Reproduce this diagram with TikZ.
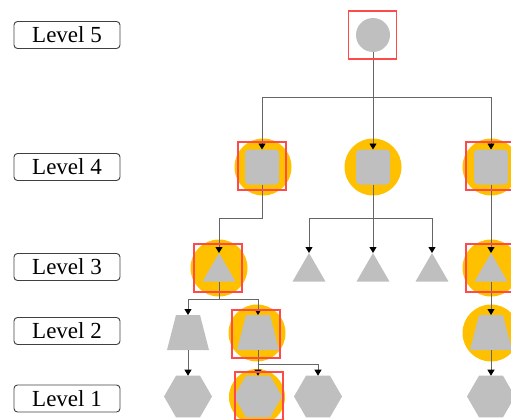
\documentclass[tikz,border=0pt]{standalone}
\usepackage{fontspec}
\setmainfont{Liberation Serif}
\usetikzlibrary{shapes.geometric,arrows.meta}
\definecolor{shapegray}{HTML}{BFBFBF}
\definecolor{hilite}{HTML}{FFC000}
\definecolor{redbox}{HTML}{FF4A4A}
\definecolor{linegray}{HTML}{666666}
\tikzset{
  lvl/.style={draw=black!75, line width=0.9pt, rounded corners=3.5pt, minimum width=106pt, minimum height=27pt, inner sep=0pt, font=\fontsize{23}{25}\selectfont},
  shp/.style={fill=shapegray, draw=none, inner sep=0pt, outer sep=0pt},
  circ/.style={shp, circle, minimum size=34pt},
  sq/.style={shp, rectangle, rounded corners=4pt, minimum width=34pt, minimum height=35pt},
  tri/.style={shp, regular polygon, regular polygon sides=3, minimum size=38pt},
  trap/.style={draw=none, inner sep=0pt, outer sep=0pt, rectangle, minimum width=42pt, minimum height=35pt,
    path picture={\fill[shapegray] (path picture bounding box.south west) -- (path picture bounding box.south east) -- ([xshift=-9pt]path picture bounding box.north east) -- ([xshift=9pt]path picture bounding box.north west) -- cycle;}},
  hexa/.style={shp, regular polygon, regular polygon sides=6, minimum size=48pt},
  glow/.style={circle, fill=hilite, draw=none, minimum size=57pt, inner sep=0pt},
  selbox/.style={draw=redbox, line width=1.1pt, minimum size=48pt, inner sep=0pt, rectangle},
  conn/.style={draw=linegray, line width=0.9pt},
  arr/.style={conn, -{Triangle[width=7pt,length=6pt,color=black]}}
}
\begin{document}
\begin{tikzpicture}[x=1pt,y=-1pt]
\useasboundingbox (0,0) rectangle (511,420);
\clip (0,0) rectangle (511,420);
% level labels
\node[lvl] (L5) at (67,35) {Level 5};
\node[lvl] (L4) at (67,167) {Level 4};
\node[lvl] (L3) at (67,267) {Level 3};
\node[lvl] (L2) at (67,331) {Level 2};
\node[lvl] (L1) at (67,398.5) {Level 1};
% highlight circles
\node[glow] (g4a) at (263,167) {};
\node[glow] (g4b) at (373,167) {};
\node[glow] (g4c) at (491,167) {};
\node[glow] (g3a) at (219,268) {};
\node[glow] (g3e) at (491,268) {};
\node[glow] (g2b) at (257,333) {};
\node[glow] (g2c) at (491,333) {};
\node[glow, minimum size=56pt] (g1b) at (257,397) {};
% shapes
\node[circ] (r) at (373,35) {};
\node[sq] (a) at (262,167) {};
\node[sq] (b) at (373,167) {};
\node[sq] (c) at (491,167) {};
\node[tri] (t1) at (219,272) {};
\node[tri] (t2) at (309,272) {};
\node[tri] (t3) at (373,272) {};
\node[tri] (t4) at (432,272) {};
\node[tri] (t5) at (491,272) {};
\node[trap] (p1) at (188,332.5) {};
\node[trap] (p2) at (258,332.5) {};
\node[trap] (p3) at (491,332.5) {};
\node[hexa] (h1) at (188,396.5) {};
\node[hexa] (h2) at (258,396.5) {};
\node[hexa] (h3) at (318,396.5) {};
\node[hexa] (h4) at (491,396.5) {};
% bus coordinates
\coordinate (b5) at (0,97);
\coordinate (b4) at (0,218);
\coordinate (b3) at (0,299);
\coordinate (b2) at (0,364);
% connectors
\draw[arr] (r.south) -- (r.south |- b5) -| (a.north);
\draw[arr] (r.south) -- (b.north);
\draw[arr] (r.south |- b5) -| (c.north);
\draw[arr] (a.south) -- (a.south |- b4) -| (t1.north);
\draw[arr] (b.south) -- (t3.north);
\draw[arr] (b.south |- b4) -| (t2.north);
\draw[arr] (b.south |- b4) -| (t4.north);
\draw[arr] (c.south) -- (t5.north);
\draw[arr] (t1.south) -- (t1.south |- b3) -| (p1.north);
\draw[arr] (t1.south |- b3) -| (p2.north);
\draw[arr] (t5.south) -- (p3.north);
\draw[arr] (p1.south) -- (h1.north);
\draw[arr] (p2.south) -- (h2.north);
\draw[arr] (p2.south |- b2) -| (h3.north);
\draw[arr] (p3.south) -- (h4.north);
% red selection squares
\node[selbox] (m5) at (372.5,35) {};
\node[selbox] (m4a) at (262,166) {};
\node[selbox] (m4c) at (490,166) {};
\node[selbox] (m3a) at (218,268) {};
\node[selbox] (m3e) at (490,268) {};
\node[selbox] (m2b) at (256,334) {};
\node[selbox] (m1b) at (259,396) {};
\end{tikzpicture}
\end{document}
